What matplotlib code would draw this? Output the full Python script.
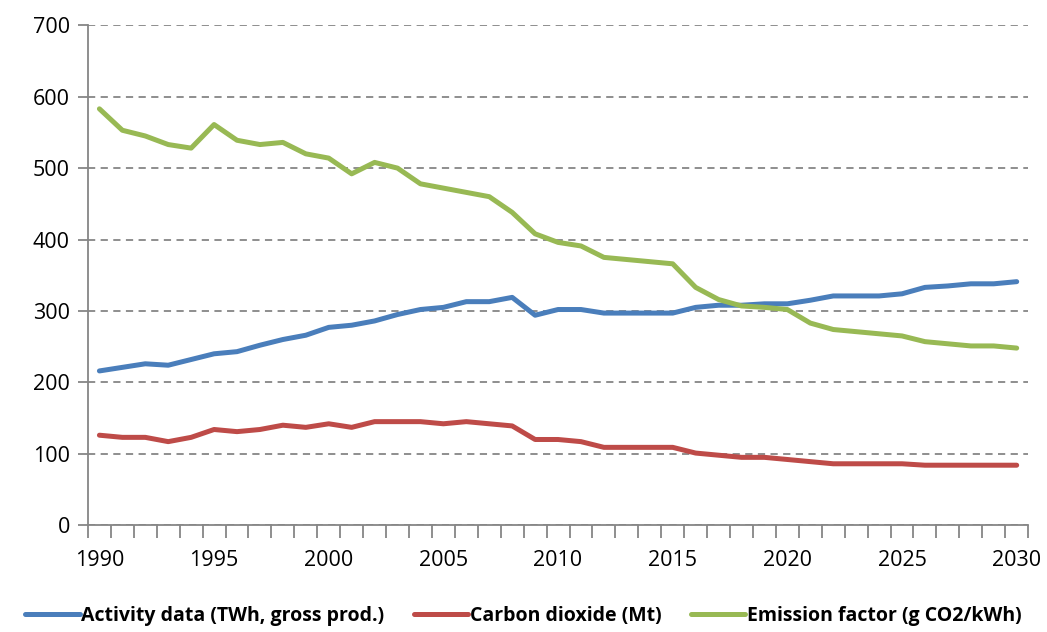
import numpy as np
import matplotlib.pyplot as plt
from matplotlib.ticker import MultipleLocator

years = list(range(1990, 2031))

activity = [216, 221, 226, 224, 232, 240, 243, 252, 260, 266,
            277, 280, 286, 295, 302, 305, 313, 313, 319, 294,
            302, 302, 297, 297, 297, 297, 305, 308, 308, 310,
            310, 315, 321, 321, 321, 324, 333, 335, 338, 338, 341]

co2 = [126, 123, 123, 117, 123, 134, 131, 134, 140, 137,
       142, 137, 145, 145, 145, 142, 145, 142, 139, 120,
       120, 117, 109, 109, 109, 109, 101, 98, 95, 95,
       92, 89, 86, 86, 86, 86, 84, 84, 84, 84, 84]

emission = [583, 553, 545, 533, 528, 561, 539, 533, 536, 520,
            514, 492, 508, 500, 478, 472, 466, 460, 438, 408,
            396, 391, 375, 372, 369, 366, 333, 316, 307, 305,
            302, 283, 274, 271, 268, 265, 257, 254, 251, 251, 248]

labels = ['Activity data (TWh, gross prod.)', 'Carbon dioxide (Mt)',
          'Emission factor (g CO2/kWh)']
colors = ['#4a7ebb', '#be4b48', '#98b954']

plt.rcParams['font.family'] = ['Open Sans', 'DejaVu Sans']

fig = plt.figure(figsize=(10.47, 6.32), dpi=100)
ax = fig.add_axes([0.084, 0.169, 0.898, 0.791])

for vals, lab, c in zip([activity, co2, emission], labels, colors):
    ax.plot(years, vals, color=c, lw=3.6, label=lab, solid_capstyle='round',
            solid_joinstyle='round')

ax.set_xlim(1989.5, 2030.5)
ax.set_ylim(0, 700)
ax.set_xticks(range(1990, 2031, 5))
ax.set_xticks(np.arange(1989.5, 2031, 1), minor=True)
ax.yaxis.set_major_locator(MultipleLocator(100))

ax.grid(axis='y', color='#868686', ls=(0, (4, 3)), lw=1.3)
ax.set_axisbelow(True)
for s in ['top', 'right']:
    ax.spines[s].set_visible(False)
for s in ['left', 'bottom']:
    ax.spines[s].set_color('#868686')
    ax.spines[s].set_linewidth(1.3)

ax.tick_params(axis='x', which='major', length=0, labelsize=15.5, pad=18)
ax.tick_params(axis='x', which='minor', length=9, width=1.3, color='#868686', direction='out')
ax.tick_params(axis='y', length=7, width=1.3, color='#868686', labelsize=15.5, pad=6)

fig.legend(loc='lower center', bbox_to_anchor=(0.5, -0.018), ncol=3, frameon=False,
           prop={'weight': 'bold', 'size': 14}, handlelength=2.8, handletextpad=0.1,
           columnspacing=1.5)

fig.savefig('out.png', dpi=100)
